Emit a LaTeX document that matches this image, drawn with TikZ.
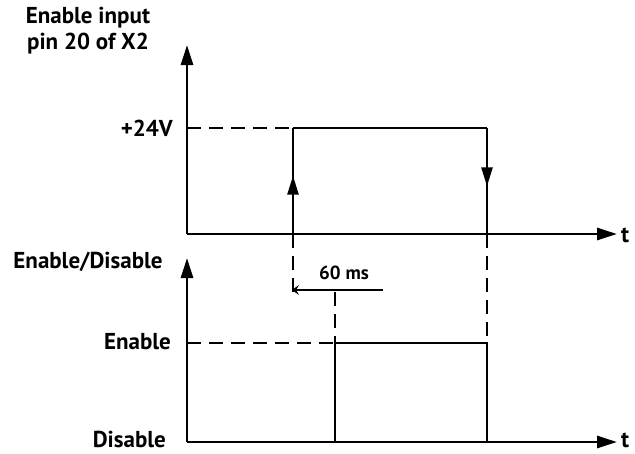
\documentclass[tikz,border=0pt]{standalone}
\usepackage{fontspec}
\setmainfont{PT Sans}
\usetikzlibrary{arrows.meta,decorations.markings}
\begin{document}
\begin{tikzpicture}[x=1pt,y=-1pt,
  axis/.style={line width=2.8pt,-{Triangle[length=20pt,width=12pt]}},
  sig/.style={line width=2.6pt},
  dsh/.style={line width=2.2pt,dash pattern=on 14pt off 8pt},
  lbl/.style={font=\bfseries\fontsize{23}{26}\selectfont,inner sep=0pt},
  midup/.style={decoration={markings,mark=at position 0.55 with {\arrow{Triangle[length=19pt,width=11pt]}}},postaction={decorate}}
]
\useasboundingbox (0,0) rectangle (635,453);
% top graph
\coordinate (O1) at (187,234);
\coordinate (Y1) at (187,45);
\coordinate (X1) at (617,234);
\draw[axis] (O1) -- (Y1);
\draw[axis] (O1) -- (X1);
\node[lbl,anchor=west] (t1) at (621,235) {t};
\node[lbl,align=center] (ein) at (88,31) {Enable input\\pin 20 of X2};
\node[lbl,anchor=east] (v24) at (173,128) {+24V};
\coordinate (H1) at (187,128);
\coordinate (R1b) at (293,234);
\coordinate (R1t) at (293,128);
\coordinate (F1t) at (487,128);
\coordinate (F1b) at (487,234);
\draw[dsh] (H1) -- (R1t);
\draw[sig,midup] (R1b) -- (R1t);
\draw[sig] (R1t) -- (F1t);
\draw[sig,midup] (F1t) -- (F1b);
% bottom graph
\coordinate (O2) at (187,442);
\coordinate (Y2) at (187,258);
\coordinate (X2) at (617,442);
\draw[axis] (O2) -- (Y2);
\draw[axis] (O2) -- (X2);
\node[lbl,anchor=west] (t2) at (621,440) {t};
\node[lbl] (ed) at (88,262) {Enable/Disable};
\node[lbl,anchor=east] (en) at (171,342) {Enable};
\node[lbl,anchor=east] (dis) at (166,439) {Disable};
\coordinate (H2) at (187,343);
\coordinate (R2b) at (335,442);
\coordinate (R2t) at (335,343);
\coordinate (F2t) at (487,343);
\coordinate (F2b) at (487,442);
\draw[dsh] (H2) -- (R2t);
\draw[sig] (R2b) -- (R2t) -- (F2t) -- (F2b);
% dashed guides
\coordinate (G1) at (293,293);
\coordinate (G2) at (335,292);
\draw[dsh] (R1b) -- (G1);
\draw[dsh] (F1b) -- (F2t);
\draw[dsh] (G2) -- (R2t);
% 60 ms
\coordinate (A1) at (383,290);
\coordinate (A2) at (292,290);
\draw[line width=1.4pt,-{Stealth[length=7pt,width=10pt,inset=3pt]}] (A1) -- (A2);
\node[lbl,font=\fontsize{19}{22}\selectfont\bfseries] (ms) at (344,273) {60 ms};
\end{tikzpicture}
\end{document}
